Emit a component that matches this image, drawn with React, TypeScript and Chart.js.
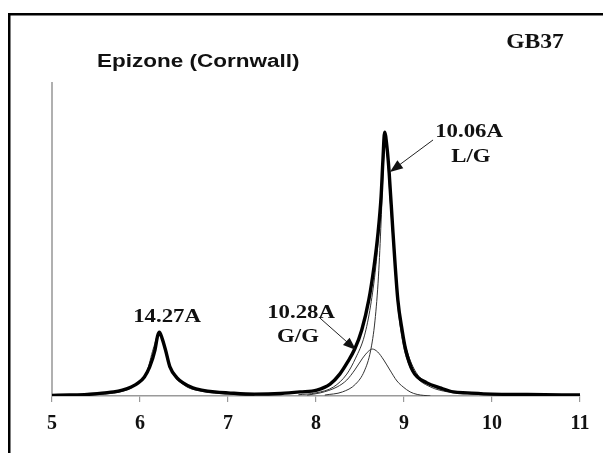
import React, { useEffect, useRef } from "react";
import { Chart, registerables } from "chart.js";

Chart.register(...registerables);

// x axis: degrees 2-theta
const xTickValues = [5, 6, 7, 8, 9, 10, 11];

// measured diffraction trace (thick)
const measuredTheta = [5.0, 5.2, 5.4, 5.6, 5.7, 5.8, 5.9, 5.98, 6.05, 6.11, 6.17, 6.2, 6.22, 6.25, 6.29, 6.34, 6.42, 6.49, 6.6, 6.7, 6.85, 7.0, 7.3, 7.6, 7.82, 8.01, 8.16, 8.27, 8.36, 8.44, 8.52, 8.6, 8.66, 8.705, 8.74, 8.76, 8.78, 8.805, 8.83, 8.875, 8.93, 8.98, 9.02, 9.1, 9.26, 9.41, 9.56, 9.72, 10.0, 10.4, 11.0];
const measuredIntensity = [0.2, 0.3, 0.5, 1.0, 1.3, 1.9, 2.9, 4.2, 6.1, 9.3, 14.7, 19.2, 20.4, 18.5, 14.7, 9.3, 5.8, 4.2, 2.6, 1.9, 1.3, 1.0, 0.6, 0.8, 1.3, 1.9, 3.8, 7.0, 10.9, 15.0, 21.1, 30.7, 41.5, 52.1, 63.9, 75.1, 84.3, 79.9, 71.9, 52.1, 30.7, 20.8, 14.7, 8.0, 4.2, 2.6, 1.3, 1.0, 0.6, 0.5, 0.3];

// fitted 14.27A component
const chloriteTheta = [5.3, 5.6, 5.8, 5.95, 6.08, 6.15, 6.22, 6.29, 6.36, 6.5, 6.7, 7.0, 7.3];
const chloriteIntensity = [0.2, 0.6, 1.5, 3.5, 8.0, 15.0, 20.2, 14.8, 8.0, 3.5, 1.5, 0.6, 0.2];

// fitted sum around the illite peak
const fitTheta = [7.8, 8.0, 8.2, 8.35, 8.45, 8.55, 8.62, 8.68, 8.72, 8.76, 8.785, 8.81, 8.84, 8.88, 8.93, 8.99, 9.05, 9.15, 9.3, 9.5, 9.8, 10.2];
const fitIntensity = [0.4, 1.0, 2.9, 7.0, 12.1, 19.2, 28.8, 41.5, 54.3, 71.9, 82.4, 77.5, 66.0, 50.0, 31.0, 19.5, 13.0, 7.0, 3.5, 1.5, 0.7, 0.3];

// 10.28A G/G component
const ggTheta = [7.9, 8.05, 8.24, 8.35, 8.44, 8.53, 8.6, 8.64, 8.7, 8.77, 8.84, 8.92, 8.99, 9.07, 9.15, 9.3];
const ggIntensity = [0.3, 1.0, 2.9, 5.1, 8.3, 12.1, 14.4, 15.0, 14.1, 11.5, 8.3, 4.8, 2.9, 1.3, 0.5, 0];

// 10.06A L/G component
const lgTheta = [8.1, 8.3, 8.45, 8.55, 8.62, 8.67, 8.71, 8.74, 8.765, 8.785, 8.81, 8.84, 8.88, 8.93, 8.99, 9.05, 9.15, 9.3, 9.5, 9.8, 10.2];
const lgIntensity = [0.3, 1.3, 3.8, 8.0, 14.4, 24.0, 38.3, 55.9, 73.5, 82.4, 76.7, 63.9, 47.9, 28.8, 16.6, 10.5, 5.8, 2.9, 1.3, 0.6, 0.3];

// peak labels (data coordinates)
const peakLabelText = ["14.27A", "10.28A", "G/G", "10.06A", "L/G"];
const peakLabelTheta = [6.307, 7.83, 7.795, 9.739, 9.761];
const peakLabelIntensity = [25.2, 26.5, 18.8, 84.3, 76.4];

// arrows: [theta, intensity]
const arrowFrom = [[8.045, 24.9], [9.33, 81.8]];
const arrowTo = [[8.455, 14.7], [8.84, 71.6]];

const titleText = "Epizone (Cornwall)";
const sampleText = "GB37";

const SERIF = '"Liberation Serif", "Times New Roman", serif';
const SANS = '"Liberation Sans", Arial, sans-serif';

const toPoints = (xs: number[], ys: number[]) => xs.map((x, i) => ({ x, y: ys[i] }));

function drawScaledText(ctx: CanvasRenderingContext2D, text: string, x: number, y: number, font: string, sx: number, align: CanvasTextAlign) {
  ctx.save();
  ctx.font = font;
  ctx.fillStyle = "#111";
  ctx.textAlign = align;
  ctx.textBaseline = "middle";
  ctx.translate(x, y);
  ctx.scale(sx, 1);
  ctx.fillText(text, 0, 0);
  ctx.restore();
}

function drawArrow(ctx: CanvasRenderingContext2D, x1: number, y1: number, x2: number, y2: number) {
  const ang = Math.atan2(y2 - y1, x2 - x1);
  const len = 13;
  const half = 5;
  ctx.save();
  ctx.strokeStyle = "#222";
  ctx.lineWidth = 1;
  ctx.beginPath();
  ctx.moveTo(x1, y1);
  ctx.lineTo(x2 - Math.cos(ang) * len * 0.6, y2 - Math.sin(ang) * len * 0.6);
  ctx.stroke();
  ctx.fillStyle = "#111";
  ctx.beginPath();
  ctx.moveTo(x2, y2);
  ctx.lineTo(x2 - Math.cos(ang) * len - Math.sin(ang) * half, y2 - Math.sin(ang) * len + Math.cos(ang) * half);
  ctx.lineTo(x2 - Math.cos(ang) * len + Math.sin(ang) * half, y2 - Math.sin(ang) * len - Math.cos(ang) * half);
  ctx.closePath();
  ctx.fill();
  ctx.restore();
}

const decorPlugin = {
  id: "decor",
  beforeDraw(chart: any) {
    const ctx = chart.ctx as CanvasRenderingContext2D;
    ctx.save();
    ctx.fillStyle = "#fff";
    ctx.fillRect(0, 0, chart.width, chart.height);
    ctx.fillStyle = "#000";
    ctx.fillRect(8, 13, chart.width - 8, 2.5);
    ctx.fillRect(8, 13, 2.5, chart.height - 13);
    ctx.restore();
  },
  afterDatasetsDraw(chart: any) {
    const ctx = chart.ctx as CanvasRenderingContext2D;
    const xs = chart.scales.x;
    const ys = chart.scales.y;
    drawScaledText(ctx, titleText, 97, 62, `bold 18px ${SANS}`, 1.25, "left");
    drawScaledText(ctx, sampleText, 535, 43, `bold 20px ${SERIF}`, 1.18, "center");
    peakLabelText.forEach((t, i) => {
      drawScaledText(ctx, t, xs.getPixelForValue(peakLabelTheta[i]), ys.getPixelForValue(peakLabelIntensity[i]), `bold 19px ${SERIF}`, 1.2, "center");
    });
    arrowFrom.forEach((f, i) => {
      const t = arrowTo[i];
      drawArrow(ctx, xs.getPixelForValue(f[0]), ys.getPixelForValue(f[1]), xs.getPixelForValue(t[0]), ys.getPixelForValue(t[1]));
    });
  },
};

export default function App() {
  const ref = useRef<HTMLCanvasElement | null>(null);
  useEffect(() => {
    if (!ref.current) return;
    const common = { fill: false, pointRadius: 0, cubicInterpolationMode: "monotone" as const };
    const chart = new Chart(ref.current, {
      type: "line",
      data: {
        datasets: [
          { ...common, label: "measured", data: toPoints(measuredTheta, measuredIntensity), borderColor: "#000", borderWidth: 3.4 },
          { ...common, label: "fit", data: toPoints(fitTheta, fitIntensity), borderColor: "#333", borderWidth: 1 },
          { ...common, label: "14.27A", data: toPoints(chloriteTheta, chloriteIntensity), borderColor: "#333", borderWidth: 1 },
          { ...common, label: "L/G", data: toPoints(lgTheta, lgIntensity), borderColor: "#333", borderWidth: 1 },
          { ...common, label: "G/G", data: toPoints(ggTheta, ggIntensity), borderColor: "#333", borderWidth: 1 },
        ],
      },
      options: {
        animation: false,
        responsive: false,
        events: [],
        layout: { padding: { left: 52, right: 23, top: 83, bottom: 0 } },
        plugins: { legend: { display: false }, tooltip: { enabled: false }, title: { display: false } },
        scales: {
          x: {
            type: "linear",
            min: 5,
            max: 11,
            afterFit: (s: any) => { s.height = 57; },
            afterBuildTicks: (s: any) => { s.ticks = xTickValues.map((v) => ({ value: v })); },
            ticks: {
              color: "#111",
              font: { family: SERIF, size: 20, weight: "bold" },
              padding: 10,
              maxRotation: 0,
              callback: (v: any) => String(v),
            },
            grid: { drawOnChartArea: false, drawTicks: true, tickLength: 6, color: "#999", lineWidth: 1.2 },
            border: { display: true, color: "#9a9a9a", width: 1.5 },
          },
          y: {
            min: 0,
            max: 100,
            afterFit: (s: any) => { s.width = 0; },
            ticks: { display: false },
            grid: { display: false, drawTicks: false },
            border: { display: true, color: "#b0b0b0", width: 2 },
          },
        },
      } as any,
      plugins: [decorPlugin],
    });
    return () => chart.destroy();
  }, []);
  return (
    <div style={{ position: "absolute", left: 0, top: 0, width: 603, height: 453 }}>
      <canvas ref={ref} width={603} height={453} style={{ width: 603, height: 453, display: "block" }} />
    </div>
  );
}
